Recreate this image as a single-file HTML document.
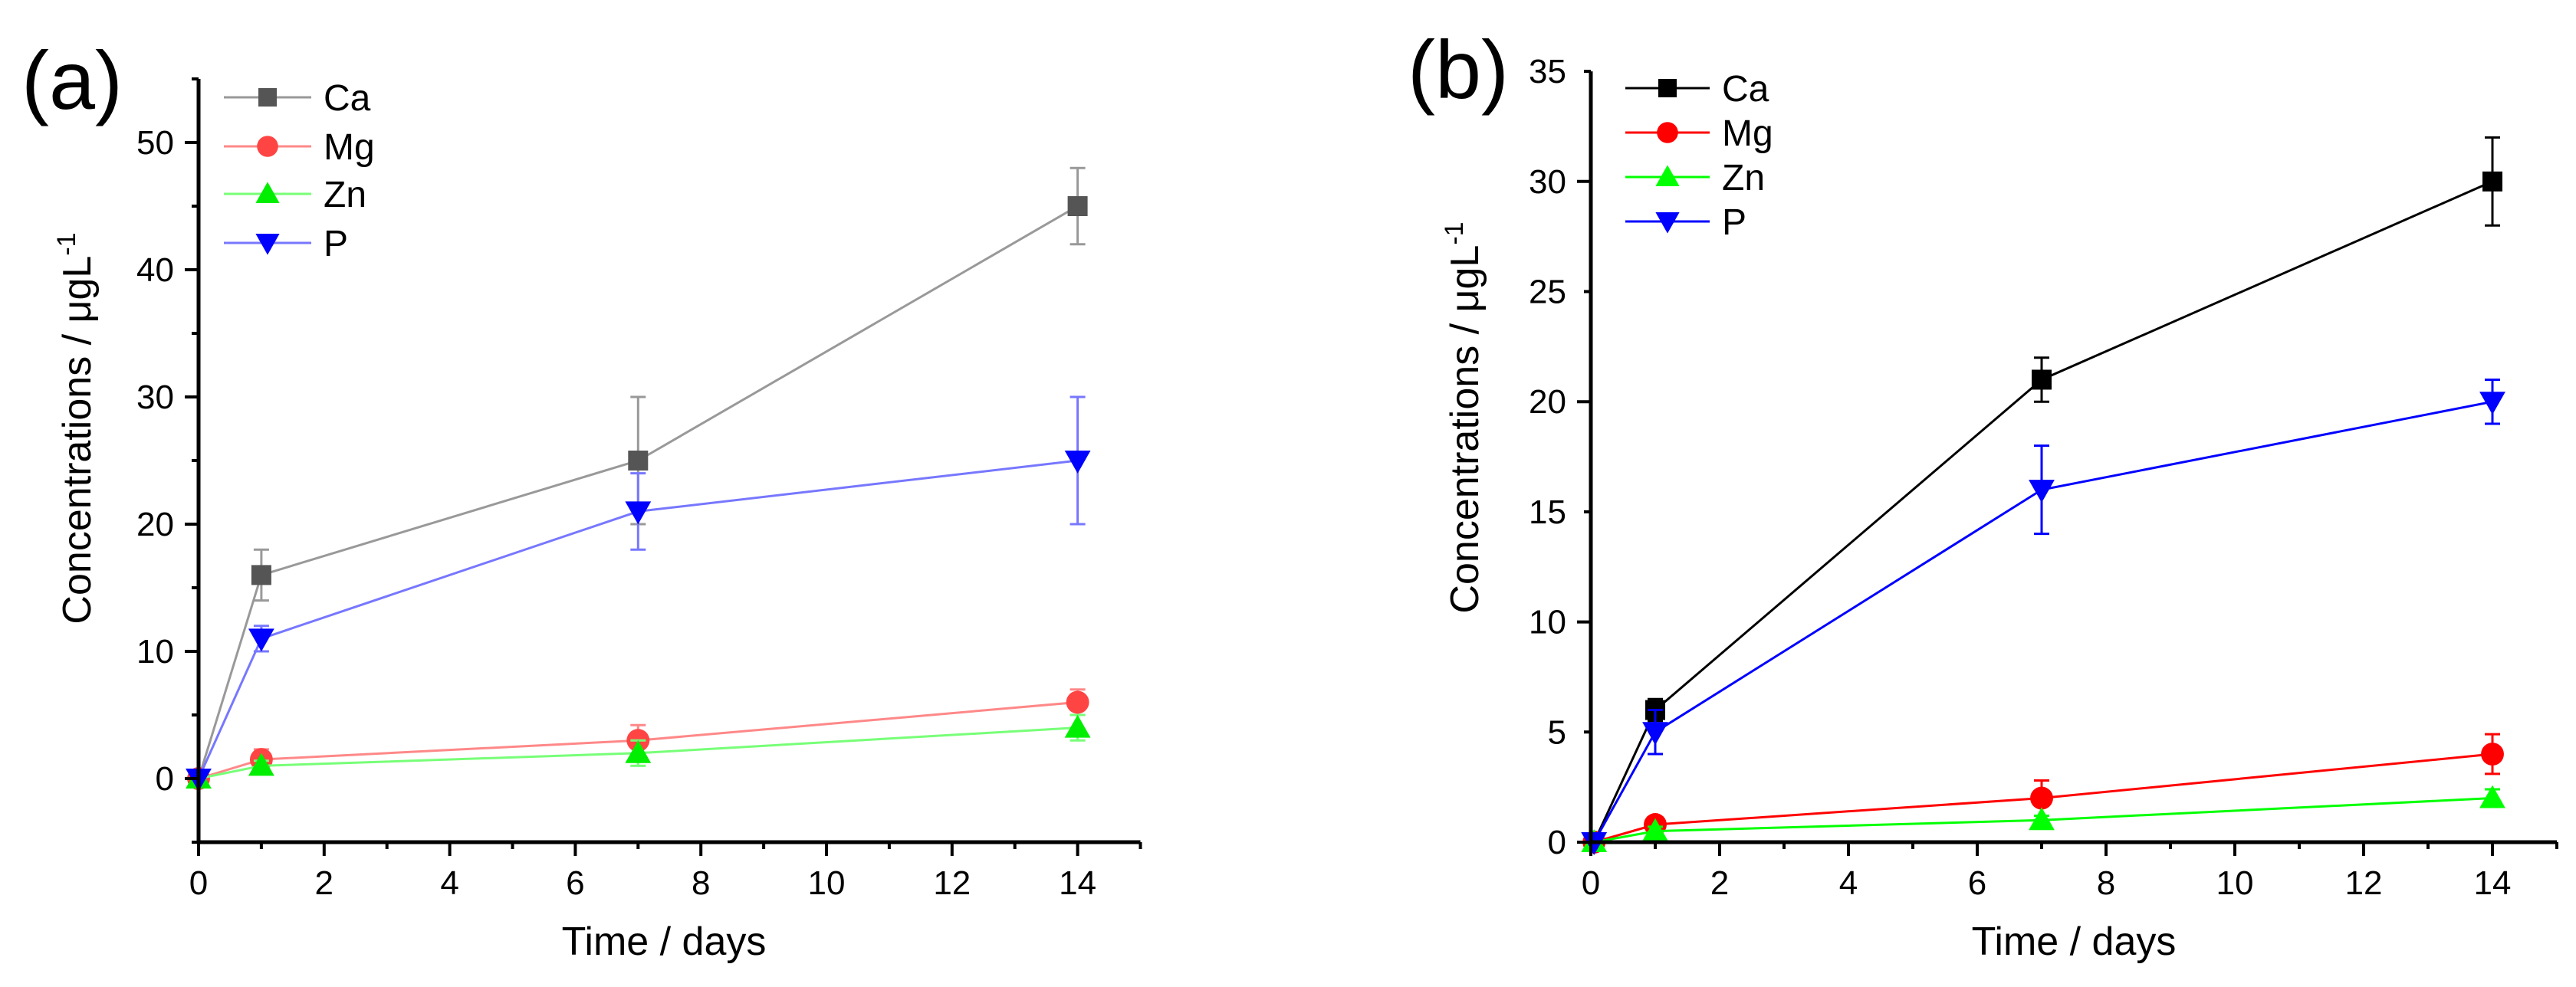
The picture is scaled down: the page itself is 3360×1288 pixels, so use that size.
<!DOCTYPE html>
<html><head><meta charset="utf-8">
<style>
html,body{margin:0;padding:0;background:#fff;}
svg{display:block;font-family:"Liberation Sans",Arial,sans-serif;}
</style></head>
<body>
<svg id="chart" width="3360" height="1288" viewBox="0 0 3360 1288" xmlns="http://www.w3.org/2000/svg">
<rect width="3360" height="1288" fill="#fff"/>
<g id="pa"></g>
<g id="pb"></g>
</svg>
<script>
const days = [0, 1, 7, 14];
const elements = ["Ca", "Mg", "Zn", "P"];
const aCa = [0, 16, 25, 45];
const aCaErr = [0, 2, 5, 3];
const aMg = [0, 1.5, 3, 6];
const aMgErr = [0, 0.8, 1.2, 1];
const aZn = [0, 1, 2, 4];
const aZnErr = [0, 0.4, 1, 1];
const aP = [0, 11, 21, 25];
const aPErr = [0, 1, 3, 5];
const bCa = [0, 6, 21, 30];
const bCaErr = [0, 0.5, 1, 2];
const bMg = [0, 0.8, 2, 4];
const bMgErr = [0, 0.2, 0.8, 0.9];
const bZn = [0, 0.5, 1, 2];
const bZnErr = [0, 0.2, 0.2, 0.4];
const bP = [0, 5, 16, 20];
const bPErr = [0, 1, 2, 1];
const xTicks = [0, 2, 4, 6, 8, 10, 12, 14];
const aYTicks = [0, 10, 20, 30, 40, 50];
const bYTicks = [0, 5, 10, 15, 20, 25, 30, 35];

const NS = "http://www.w3.org/2000/svg";
function mk(parent, tag, attrs) {
  const e = document.createElementNS(NS, tag);
  for (const k in attrs) e.setAttribute(k, attrs[k]);
  parent.appendChild(e);
  return e;
}
function marker(g, shape, x, y, s, fill) {
  let m;
  if (shape === "sq") m = mk(g, "rect", {x: x - s, y: y - s, width: 2 * s, height: 2 * s, fill: fill});
  else if (shape === "ci") m = mk(g, "circle", {cx: x, cy: y, r: s * 1.15, fill: fill});
  else if (shape === "up") m = mk(g, "polygon", {points: `${x},${y - s * 1.3} ${x - s * 1.3},${y + s} ${x + s * 1.3},${y + s}`, fill: fill});
  else m = mk(g, "polygon", {points: `${x},${y + s * 1.3} ${x - s * 1.3},${y - s} ${x + s * 1.3},${y - s}`, fill: fill});
  return m;
}

function panel(g, cfg) {
  const sx = d => cfg.x0 + (d - cfg.xmin) * cfg.pxDay;
  const sy = v => cfg.y0 - v * cfg.pxUnit;
  const yBottom = sy(cfg.ymin), yTop = sy(cfg.ymax);
  const xRight = sx(15);
  // series
  cfg.series.forEach((s, i) => {
    const sg = mk(g, "g", {});
    
    
    const pts = days.map((d, j) => `${sx(d + (j === 0 ? cfg.firstOff : 0))},${sy(s.vals[j])}`).join(" ");
    const ln = mk(sg, "polyline", {points: pts, fill: "none", stroke: s.line, "stroke-width": 3});
    
    
    days.forEach((d, j) => {
      const x = sx(d + (j === 0 ? cfg.firstOff : 0));
      const e = s.err[j];
      if (e > 0) {
        const eb = mk(sg, "path", {d: `M${x},${sy(s.vals[j] - e)}V${sy(s.vals[j] + e)}M${x - 10},${sy(s.vals[j] - e)}h20M${x - 10},${sy(s.vals[j] + e)}h20`, stroke: s.line, "stroke-width": 3, fill: "none"});
        
        
      }
      const m = marker(sg, s.shape, x, sy(s.vals[j]), 13, s.fill);
      
      
    });
  });
  // axes
  const ax = mk(g, "path", {d: `M${cfg.x0},${yTop}V${yBottom}H${xRight}`, stroke: "#000", "stroke-width": 5, fill: "none"});
  
  
  let tk = "";
  for (let d = 0; d <= 15; d++) {
    const L = d % 2 === 0 ? 18 : 9;
    tk += `M${sx(d)},${yBottom}v${L}`;
  }
  for (let v = cfg.ymin; v <= cfg.ymax; v += 5) {
    const L = v % 10 === cfg.majorMod ? 18 : 9;
    tk += `M${cfg.x0},${sy(v)}h${-L}`;
  }
  mk(g, "path", {d: tk, stroke: "#000", "stroke-width": 4, fill: "none"});
  xTicks.forEach(d => {
    const t = mk(g, "text", {x: sx(d), y: yBottom + 68, "font-size": 44, "text-anchor": "middle"});
    t.textContent = d;
    
    
  });
  cfg.yTicks.forEach(v => {
    const t = mk(g, "text", {x: cfg.x0 - 32, y: sy(v) + 15, "font-size": 44, "text-anchor": "end"});
    t.textContent = v;
    
    
  });
  const xt = mk(g, "text", {x: cfg.xTitleX, y: 1246, "font-size": 52, "text-anchor": "middle"});
  xt.textContent = "Time / days";
  
  
  const yt = mk(g, "text", {x: 0, y: 0, "font-size": 52, "text-anchor": "middle", transform: `translate(${cfg.yTitleX},${cfg.yTitleY}) rotate(-90)`});
  yt.innerHTML = 'Concentrations / μgL<tspan dy="-20" font-size="34">-1</tspan>';
  
  
  const pl = mk(g, "text", {x: cfg.labelX, y: cfg.labelY, "font-size": 108});
  pl.textContent = cfg.label;
  
  
  // legend
  const lg = mk(g, "g", {});
  
  
  cfg.series.forEach((s, i) => {
    const y = cfg.legY[i];
    const e = mk(lg, "g", {});
    
    
    mk(e, "line", {x1: cfg.legX1, x2: cfg.legX2, y1: y, y2: y, stroke: s.line, "stroke-width": 3});
    marker(e, s.shape, (cfg.legX1 + cfg.legX2) / 2, y, 12, s.fill);
    const t = mk(e, "text", {x: cfg.legX2 + 16, y: y + 17, "font-size": 48});
    t.textContent = s.name;
  });
}

panel(document.getElementById("pa"), {
  x0: 259, xmin: 0, pxDay: 81.9, y0: 1016, pxUnit: 16.6, ymin: -5, ymax: 55, majorMod: 0, firstOff: 0,
  yTicks: aYTicks, xTitleX: 866, yTitleX: 118, yTitleY: 559, labelX: 28, labelY: 142, label: "(a)",
  legX1: 292, legX2: 406, legY: [127, 191, 253, 317],
  series: [
    {name: elements[0], vals: aCa, err: aCaErr, shape: "sq", fill: "#555", line: "#999"},
    {name: elements[1], vals: aMg, err: aMgErr, shape: "ci", fill: "#f44", line: "#f88"},
    {name: elements[2], vals: aZn, err: aZnErr, shape: "up", fill: "#0e0", line: "#7f7"},
    {name: elements[3], vals: aP, err: aPErr, shape: "dn", fill: "#00f", line: "#77f"}
  ]
});
panel(document.getElementById("pb"), {
  x0: 2075, xmin: 0, pxDay: 84, y0: 1099, pxUnit: 28.74, ymin: 0, ymax: 35, majorMod: 0, firstOff: 0.05,
  yTicks: bYTicks, xTitleX: 2705, yTitleX: 1928, yTitleY: 545, labelX: 1836, labelY: 128, label: "(b)",
  legX1: 2120, legX2: 2230, legY: [115, 173, 231, 289],
  series: [
    {name: elements[0], vals: bCa, err: bCaErr, shape: "sq", fill: "#000", line: "#000"},
    {name: elements[1], vals: bMg, err: bMgErr, shape: "ci", fill: "#f00", line: "#f00"},
    {name: elements[2], vals: bZn, err: bZnErr, shape: "up", fill: "#0f0", line: "#0f0"},
    {name: elements[3], vals: bP, err: bPErr, shape: "dn", fill: "#00f", line: "#00f"}
  ]
});
</script>
</body></html>
